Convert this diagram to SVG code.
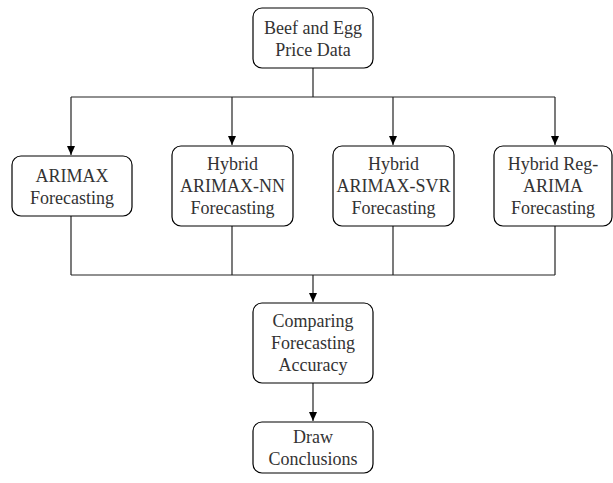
<svg xmlns="http://www.w3.org/2000/svg" width="613" height="483" viewBox="0 0 613 483">
<defs>
<marker id="ah" markerWidth="10" markerHeight="10" refX="9" refY="5" orient="auto" markerUnits="userSpaceOnUse">
<path d="M0,1 L9,5 L0,9 Z" fill="#000"/>
</marker>
<style>
.box{fill:#fff;stroke:#000;stroke-width:1.2}
.t{font-family:"Liberation Serif","Times New Roman",serif;font-size:18px;fill:#333;text-anchor:middle}
.c{fill:none;stroke:#222;stroke-width:1.2}
</style>
</defs>
<rect width="613" height="483" fill="#fff"/>
<g id="connectors">
<path class="c" d="M313,68 V97"/>
<path class="c" d="M71,97 H555"/>
<path class="c" d="M71,97 V155" marker-end="url(#ah)"/>
<path class="c" d="M232,97 V145" marker-end="url(#ah)"/>
<path class="c" d="M393,97 V145" marker-end="url(#ah)"/>
<path class="c" d="M555,97 V145" marker-end="url(#ah)"/>
<path class="c" d="M71,216 V275"/>
<path class="c" d="M232,226 V275"/>
<path class="c" d="M393,226 V275"/>
<path class="c" d="M555,226 V275"/>
<path class="c" d="M71,275 H555"/>
<path class="c" d="M313,275 V302" marker-end="url(#ah)"/>
<path class="c" d="M313,383 V421" marker-end="url(#ah)"/>
</g>
<g id="n1">
<rect class="box" x="253" y="8" width="120" height="60" rx="9"/>
<text class="t" x="313" y="34">Beef and Egg</text>
<text class="t" x="313" y="56">Price Data</text>
</g>
<g id="n2">
<rect class="box" x="12" y="156" width="120" height="60" rx="9"/>
<text class="t" x="72" y="182">ARIMAX</text>
<text class="t" x="72" y="204">Forecasting</text>
</g>
<g id="n3">
<rect class="box" x="172" y="146" width="121" height="80" rx="9"/>
<text class="t" x="232.5" y="170">Hybrid</text>
<text class="t" x="232.5" y="192">ARIMAX-NN</text>
<text class="t" x="232.5" y="214">Forecasting</text>
</g>
<g id="n4">
<rect class="box" x="333" y="146" width="121" height="80" rx="9"/>
<text class="t" x="393.5" y="170">Hybrid</text>
<text class="t" x="393.5" y="192">ARIMAX-SVR</text>
<text class="t" x="393.5" y="214">Forecasting</text>
</g>
<g id="n5">
<rect class="box" x="494" y="146" width="118" height="80" rx="9"/>
<text class="t" x="553" y="170">Hybrid Reg-</text>
<text class="t" x="553" y="192">ARIMA</text>
<text class="t" x="553" y="214">Forecasting</text>
</g>
<g id="n6">
<rect class="box" x="253" y="303" width="120" height="80" rx="9"/>
<text class="t" x="313" y="327">Comparing</text>
<text class="t" x="313" y="349">Forecasting</text>
<text class="t" x="313" y="371">Accuracy</text>
</g>
<g id="n7">
<rect class="box" x="253" y="422" width="120" height="51" rx="9"/>
<text class="t" x="313" y="443">Draw</text>
<text class="t" x="313" y="465">Conclusions</text>
</g>
</svg>
